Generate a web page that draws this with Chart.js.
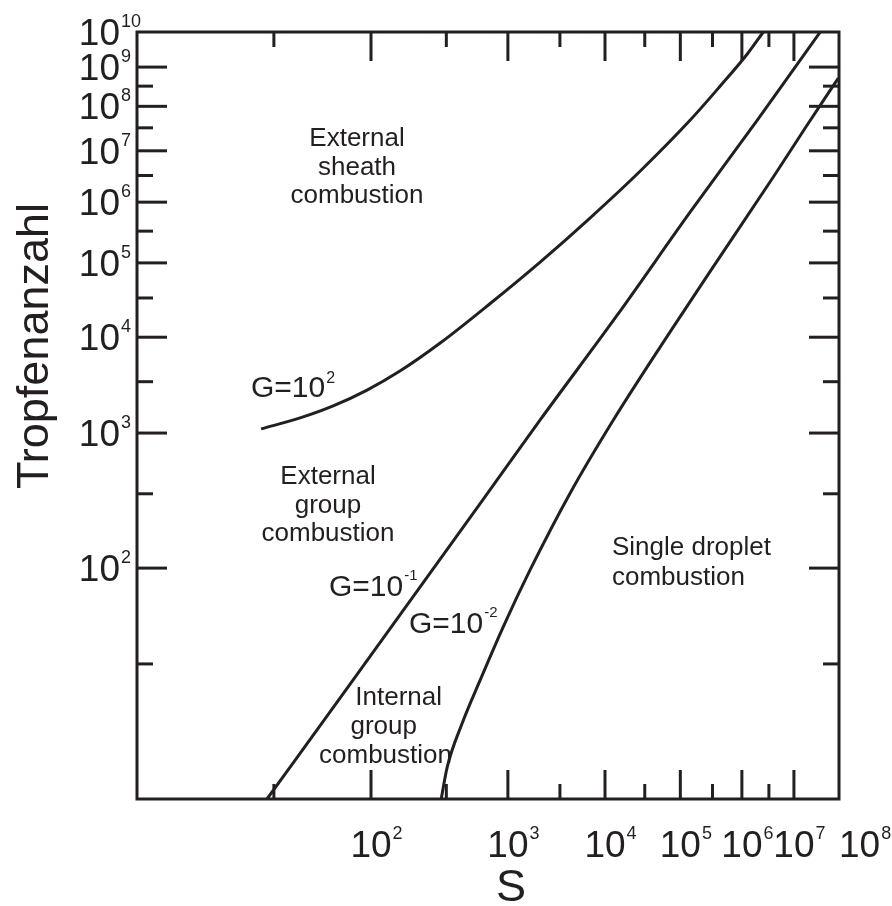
<!DOCTYPE html>
<html>
<head>
<meta charset="utf-8">
<script src="https://cdn.jsdelivr.net/npm/chart.js@4.4.1/dist/chart.umd.min.js"></script>
<style>
  html, body { margin: 0; padding: 0; background: #fff; }
  #wrap { width: 892px; height: 906px; }
</style>
</head>
<body>
<div id="wrap"><canvas id="myChart" width="892" height="906"></canvas></div>
<script>
// Teilstriche (Exponenten), beide Achsen doppelt-logarithmisch
const xMajorExp = [2, 3, 4, 5, 6, 7];
const xMinorExp = [1.5, 2.5, 3.5, 4.5, 5.5, 6.5];
const xLabelExp = [2, 3, 4, 5, 6, 7, 8];
const yMajorExp = [2, 3, 4, 5, 6, 7, 8, 9];
const yMinorExp = [1.5, 2.5, 3.5, 4.5, 5.5, 6.5, 7.5, 8.5];
const yLabelExp = [2, 3, 4, 5, 6, 7, 8, 9, 10];

// G = 10^2
const sG2 = [27.8, 41.8, 61.4, 94.8, 151, 285, 703, 2.0e3, 6.7e3, 2.76e4, 1.41e5, 4.24e5, 1.25e6, 2.47e6];
const nG2 = [1.09e3, 1.38e3, 1.8e3, 2.59e3, 4.11e3, 8.53e3, 2.67e4, 1.03e5, 5.26e5, 3.88e6, 4.76e7, 3.18e8, 2.3e9, 1e10];
// G = 10^-1
const sGm1 = [29.5, 78.9, 223, 805, 2.0e3, 1.41e4, 1.41e5, 1.91e6, 3.7e7];
const nGm1 = [10, 26.9, 85.1, 404, 1.32e3, 1.89e4, 6.7e5, 4.76e7, 1e10];
// G = 10^-2
const sGm2 = [290, 321, 417, 581, 908, 1.6e3, 4.06e3, 1.26e4, 7.87e4, 4.76e5, 3.85e6, 1.73e7, 9.66e7];
const nGm2 = [10, 12.6, 18.0, 26.9, 47.4, 97.5, 321, 1.32e3, 1.33e4, 1.47e5, 2.96e6, 3.13e7, 5.13e8];

const ink = "#231f20";
const FONT = '"Liberation Sans", Arial, Helvetica, sans-serif';
const ll = v => Math.log10(Math.log10(v)); // log(log(v))

function toPoints(s, n) {
  return s.map((v, i) => ({ x: ll(v), y: ll(n[i]) }));
}

// "10" mit Hochzahl zeichnen
function drawPow(ctx, base, exp, x, baseline, size, expSize, rise, anchor) {
  ctx.font = size + "px " + FONT;
  const bw = ctx.measureText(base).width;
  let left = x;
  if (anchor === "right") left = x - bw;
  if (anchor === "center") left = x - bw / 2;
  ctx.textAlign = "left";
  ctx.textBaseline = "alphabetic";
  ctx.fillText(base, left, baseline);
  ctx.font = expSize + "px " + FONT;
  ctx.fillText(exp, left + bw + 1, baseline - rise);
}

const decorPlugin = {
  id: "decor",
  afterDraw(chart) {
    const ctx = chart.ctx;
    const a = chart.chartArea;
    const xs = chart.scales.x, ys = chart.scales.y;
    ctx.save();
    ctx.strokeStyle = ink;
    ctx.fillStyle = ink;
    ctx.lineWidth = 3;
    ctx.lineCap = "butt";

    // Rahmen
    ctx.strokeRect(a.left, a.top, a.right - a.left, a.bottom - a.top);

    // Teilstriche innen, auf allen Seiten
    const tick = (x1, y1, x2, y2) => { ctx.beginPath(); ctx.moveTo(x1, y1); ctx.lineTo(x2, y2); ctx.stroke(); };
    yMajorExp.forEach(e => { const p = ys.getPixelForValue(Math.log10(e)); tick(a.left, p, a.left + 30, p); tick(a.right, p, a.right - 30, p); });
    yMinorExp.forEach(e => { const p = ys.getPixelForValue(Math.log10(e)); tick(a.left, p, a.left + 16, p); tick(a.right, p, a.right - 16, p); });
    xMajorExp.forEach(e => { const p = xs.getPixelForValue(Math.log10(e)); tick(p, a.bottom, p, a.bottom - 29); tick(p, a.top, p, a.top + 29); });
    xMinorExp.forEach(e => { const p = xs.getPixelForValue(Math.log10(e)); tick(p, a.bottom, p, a.bottom - 15); tick(p, a.top, p, a.top + 15); });

    // Achsenbeschriftung
    yLabelExp.forEach(e => {
      const p = ys.getPixelForValue(Math.log10(e));
      drawPow(ctx, "10", String(e), 120, p + 13, 37, 18, 18, "right");
    });
    xLabelExp.forEach((e, i) => {
      const p = xs.getPixelForValue(Math.log10(e));
      const last = i === xLabelExp.length - 1;
      drawPow(ctx, "10", String(e), p, 857, 37, 18, 18, last ? "left" : "center");
    });

    // Achsentitel
    ctx.font = "45px " + FONT;
    ctx.textAlign = "center";
    ctx.textBaseline = "alphabetic";
    ctx.fillText("S", 511, 901);
    ctx.save();
    ctx.translate(48, 346);
    ctx.rotate(-Math.PI / 2);
    ctx.fillText("Tropfenanzahl", 0, 0);
    ctx.restore();

    // Bereiche
    ctx.font = "26px " + FONT;
    const lines = (arr, x, y0, dy, align) => {
      ctx.textAlign = align;
      arr.forEach((t, i) => ctx.fillText(t, x, y0 + i * dy));
    };
    lines(["External", "sheath", "combustion"], 357, 146, 28.5, "center");
    lines(["External", "group", "combustion"], 328, 484, 28.5, "center");
    ctx.textAlign = "right";
    ctx.fillText("Internal", 442, 705);
    ctx.fillText("group", 417, 734);
    ctx.fillText("combustion", 452, 763);
    lines(["Single droplet", "combustion"], 612, 555, 30, "left");

    // Kurvenbeschriftung
    drawPow(ctx, "G=10", "2", 251, 397, 30, 16, 14, "left");
    drawPow(ctx, "G=10", "-1", 329, 596, 30, 15, 16, "left");
    drawPow(ctx, "G=10", "-2", 409, 633, 30, 15, 16, "left");

    ctx.restore();
  }
};

const lineStyle = {
  borderColor: ink,
  borderWidth: 3,
  pointRadius: 0,
  fill: false,
  cubicInterpolationMode: "monotone"
};

const chart = new Chart(document.getElementById("myChart"), {
  type: "line",
  data: {
    datasets: [
      Object.assign({ label: "G=10^2", data: toPoints(sG2, nG2) }, lineStyle),
      Object.assign({ label: "G=10^-1", data: toPoints(sGm1, nGm1) }, lineStyle),
      Object.assign({ label: "G=10^-2", data: toPoints(sGm2, nGm2) }, lineStyle)
    ]
  },
  options: {
    responsive: false,
    animation: false,
    events: [],
    layout: { padding: { left: 137, right: 53, top: 32, bottom: 107 } },
    plugins: { legend: { display: false }, tooltip: { enabled: false } },
    scales: {
      x: { type: "linear", min: 0, max: Math.log10(8), display: false },
      y: { type: "linear", min: 0, max: 1, display: false }
    }
  },
  plugins: [decorPlugin]
});
</script>
</body>
</html>
